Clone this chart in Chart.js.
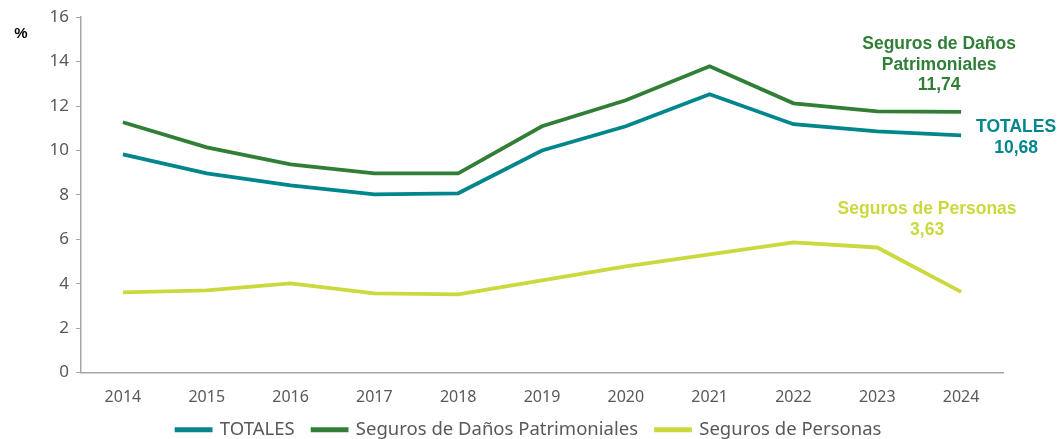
<!DOCTYPE html>
<html>
<head>
<meta charset="utf-8">
<script src="https://cdn.jsdelivr.net/npm/chart.js@4/dist/chart.umd.min.js"></script>
<style>
  html, body { margin: 0; padding: 0; background: #fff; }
  #wrap { position: relative; width: 1058px; height: 439px; }
</style>
</head>
<body>
<div id="wrap"><canvas id="lineChart"></canvas></div>
<script>
// données
var years = ['2014', '2015', '2016', '2017', '2018', '2019', '2020', '2021', '2022', '2023', '2024'];
var totales = [9.82, 8.97, 8.43, 8.02, 8.07, 10.0, 11.09, 12.53, 11.18, 10.86, 10.68];
var danos = [11.27, 10.14, 9.37, 8.97, 8.97, 11.09, 12.26, 13.79, 12.12, 11.76, 11.74];
var personas = [3.61, 3.70, 4.01, 3.56, 3.52, 4.15, 4.78, 5.32, 5.86, 5.63, 3.63];
var yTicks = [0, 2, 4, 6, 8, 10, 12, 14, 16];

var cTotales = '#00868b';
var cDanos = '#317f37';
var cPersonas = '#cbd93f';

// étiquettes à droite des séries (texte en gras)
var endLabels = {
  id: 'endLabels',
  afterDatasetsDraw: function(chart) {
    var ctx = chart.ctx;
    var labels = [
      { ds: 1, lines: ['Seguros de Daños', 'Patrimoniales', '11,74'], color: cDanos, dx: -22, dy: -67.5 },
      { ds: 0, lines: ['TOTALES', '10,68'], color: cTotales, dx: 55, dy: -8 },
      { ds: 2, lines: ['Seguros de Personas', '3,63'], color: cPersonas, dx: -34, dy: -82.5 }
    ];
    ctx.save();
    ctx.font = 'bold 17.5px "Liberation Sans", Arial, sans-serif';
    ctx.textAlign = 'center';
    ctx.textBaseline = 'middle';
    labels.forEach(function(l) {
      var pt = chart.getDatasetMeta(l.ds).data[years.length - 1];
      ctx.fillStyle = l.color;
      l.lines.forEach(function(t, i) {
        ctx.fillText(t, pt.x + l.dx, pt.y + l.dy + i * 20.5);
      });
    });
    // unité de l'axe
    ctx.fillStyle = '#000';
    ctx.font = 'bold 15px "Liberation Sans", Arial, sans-serif';
    ctx.fillText('%', 21, 34);
    ctx.restore();
  }
};

var ctx = document.getElementById('lineChart');

var data = {
  labels: years,
  datasets: [
    { label: 'TOTALES', data: totales, borderColor: cTotales, backgroundColor: cTotales },
    { label: 'Seguros de Daños Patrimoniales', data: danos, borderColor: cDanos, backgroundColor: cDanos },
    { label: 'Seguros de Personas', data: personas, borderColor: cPersonas, backgroundColor: cPersonas }
  ]
};

var options = {
  responsive: true,
  maintainAspectRatio: false,
  animation: false,
  layout: { padding: { top: 16, right: 0, left: 0, bottom: -10 } },
  elements: {
    line: { borderWidth: 3.8, tension: 0 },
    point: { radius: 0 }
  },
  plugins: {
    tooltip: { enabled: false },
    legend: {
      position: 'bottom',
      labels: {
        boxWidth: 34,
        boxHeight: 1,
        padding: 18,
        color: '#595959',
        font: { family: '"Noto Sans", sans-serif', size: 18.5 }
      }
    }
  },
  scales: {
    x: {
      offset: true,
      afterFit: function(s) { s.height = 30; },
      grid: { display: false, drawTicks: false },
      border: { color: '#a6a6a6', width: 1.5 },
      ticks: { color: '#595959', padding: 15, font: { family: '"Noto Sans", sans-serif', size: 16 } }
    },
    y: {
      min: 0,
      max: 16,
      afterFit: function(s) { s.width = 81; },
      afterBuildTicks: function(s) { s.ticks = yTicks.map(function(v) { return { value: v }; }); },
      grid: { display: true, drawOnChartArea: false, drawTicks: true, tickLength: 5, color: '#a6a6a6' },
      border: { color: '#a6a6a6', width: 1.5 },
      ticks: { color: '#595959', padding: 7, font: { family: '"Noto Sans", sans-serif', size: 17 } }
    },
    // axe vide à droite : laisse la place aux étiquettes, la légende reste centrée
    yRight: {
      position: 'right',
      min: 0,
      max: 16,
      afterFit: function(s) { s.width = 55; },
      grid: { display: false },
      border: { display: false },
      ticks: { display: false }
    }
  }
};

new Chart(ctx, {
  type: 'line',
  data: data,
  options: options,
  plugins: [endLabels]
});
</script>
</body>
</html>
